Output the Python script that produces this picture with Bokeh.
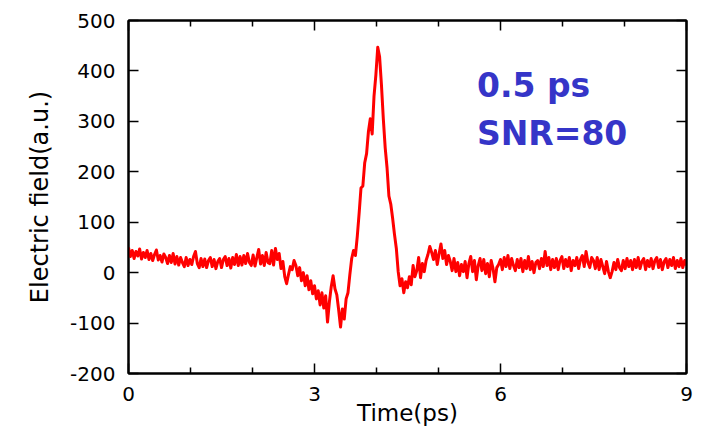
from bokeh.plotting import figure
from bokeh.models import (Range1d, FixedTicker, LinearAxis, Label, ColumnDataSource,
                          CustomJSTickFormatter)
from bokeh.embed import file_html
from bokeh.resources import INLINE

# ---- data ----
x_ticks = [0, 3, 6, 9]
x_minor_ticks = [1, 2, 4, 5, 7, 8]
y_ticks = [-200, -100, 0, 100, 200, 300, 400, 500]
sample_step_ps = 0.03

field_au = [
    50, 32, 44, 28, 42, 33, 47, 27, 40, 30,
    44, 26, 38, 24, 36, 45, 25, 34, 21, 37,
    30, 18, 34, 20, 38, 17, 32, 15, 30, 20,
    12, 30, 14, 26, 16, 32, 42, 18, 10, 28,
    12, 27, 10, 24, 30, 12, 26, 8, 22, 28,
    10, 26, 32, 14, 28, 9, 30, 16, 36, 14,
    32, 15, 34, 18, 38, 20, 14, 35, 13, 30,
    46, 17, 34, 14, 40, 20, 18, 44, 15, 48,
    26, 38, 8, 22, -8, -22, -4, 12, 6, 24,
    14, -6, 10, -16, 0, -26, -6, -34, -16, -42,
    -26, -52, -36, -64, -40, -70, -46, -98, -58, -28,
    -6, -32, -44, -74, -108, -72, -92, -52, -40, -4,
    28, 44, 34, 72, 118, 168, 172, 218, 236, 280,
    305, 275, 350, 392, 447, 428, 372, 305, 248, 208,
    152, 136, 108, 76, 48, 2, -26, -12, -40, -18,
    -30, -8, -24, 14, -8, 4, 30, -10, 18, 2,
    24, 36, 52, 40, 26, 44, 16, 38, 57, 28,
    44, 16, 34, 22, 4, 28, 2, 20, -6, 16,
    2, 22, -10, 18, 32, 2, 24, -14, 14, 28,
    4, 26, -2, 18, -8, 24, 8, -18, 10, 16,
    26, 6, 30, 12, 34, 8, 28, 14, 4, 26,
    10, 28, 2, 24, 8, 32, 6, 22, 0, 20,
    24, 8, 28, 12, 42, 14, 30, 6, 26, 10,
    28, 6, 24, 32, 8, 26, 12, 30, 4, 24,
    14, 30, 8, 26, 34, 12, 42, 20, 10, 30,
    24, 8, 30, 6, 26, 12, -2, 22, 2, -10,
    2, 20, 6, 26, 10, 4, 24, 8, 28, 12,
    24, 6, 26, 10, 30, 8, 22, 28, 6, 24,
    12, 28, 8, 24, 30, 10, 26, 6, 22, 28,
    10, 26, 14, 30, 8, 24, 12, 28, 10, 24,
    14,
]
time_ps = [round(i * sample_step_ps, 2) for i in range(len(field_au))]

annotation_lines = ["0.5 ps", "SNR=80"]
annotation_y = [371, 276]
annotation_x = 5.62

FONT = "DejaVu Sans"

p = figure(width=700, height=430, output_backend="svg", toolbar_location=None,
           x_range=Range1d(0, 9), y_range=Range1d(-200, 500),
           min_border_left=128, min_border_right=14, min_border_top=20,
           min_border_bottom=57)
p.background_fill_color = "white"
p.border_fill_color = "white"
p.xgrid.visible = False
p.ygrid.visible = False
p.outline_line_color = "black"
p.outline_line_width = 2

src = ColumnDataSource(dict(t=time_ps, e=field_au))
p.line("t", "e", source=src, line_color="#FF0000", line_width=3,
       line_join="round")

plain = CustomJSTickFormatter(code="return tick.toFixed(0);")
blank = CustomJSTickFormatter(code="return '';")

def style(ax, show_labels=True):
    ax.axis_line_color = "black"
    ax.axis_line_width = 2
    ax.major_tick_line_color = "black"
    ax.major_tick_line_width = 1.5
    ax.minor_tick_line_color = "black"
    ax.minor_tick_line_width = 1.5
    ax.major_tick_in = 10
    ax.major_tick_out = 0
    ax.minor_tick_in = 6
    ax.minor_tick_out = 0
    ax.major_label_text_font = FONT
    ax.major_label_text_font_size = "20px"
    ax.major_label_text_color = "black"
    ax.major_label_standoff = 13
    ax.formatter = plain if show_labels else blank

p.xaxis.ticker = FixedTicker(ticks=x_ticks, minor_ticks=x_minor_ticks)
p.yaxis.ticker = FixedTicker(ticks=y_ticks, minor_ticks=[])
style(p.xaxis[0])
style(p.yaxis[0])
p.xaxis.axis_label = "Time(ps)"
p.yaxis.axis_label = "Electric field(a.u.)"
for ax in (p.xaxis[0], p.yaxis[0]):
    ax.axis_label_text_font = FONT
    ax.axis_label_text_font_style = "normal"
    ax.axis_label_text_color = "black"
p.xaxis.axis_label_text_font_size = "23px"
p.yaxis.axis_label_text_font_size = "24px"
p.xaxis.axis_label_standoff = -4
p.yaxis.axis_label_standoff = 13

top = LinearAxis(ticker=FixedTicker(ticks=x_ticks, minor_ticks=x_minor_ticks))
style(top, show_labels=False)
top.major_label_standoff = 0
p.add_layout(top, "above")
right = LinearAxis(ticker=FixedTicker(ticks=y_ticks, minor_ticks=[]))
style(right, show_labels=False)
right.major_label_standoff = 0
p.add_layout(right, "right")

for txt, yv in zip(annotation_lines, annotation_y):
    p.add_layout(Label(x=annotation_x, y=yv, text=txt, text_font=FONT,
                       text_font_style="bold", text_font_size="33px",
                       text_color="#3535C8", text_baseline="alphabetic",
                       text_align="left"))

open("out.html", "w").write(file_html(p, INLINE))
